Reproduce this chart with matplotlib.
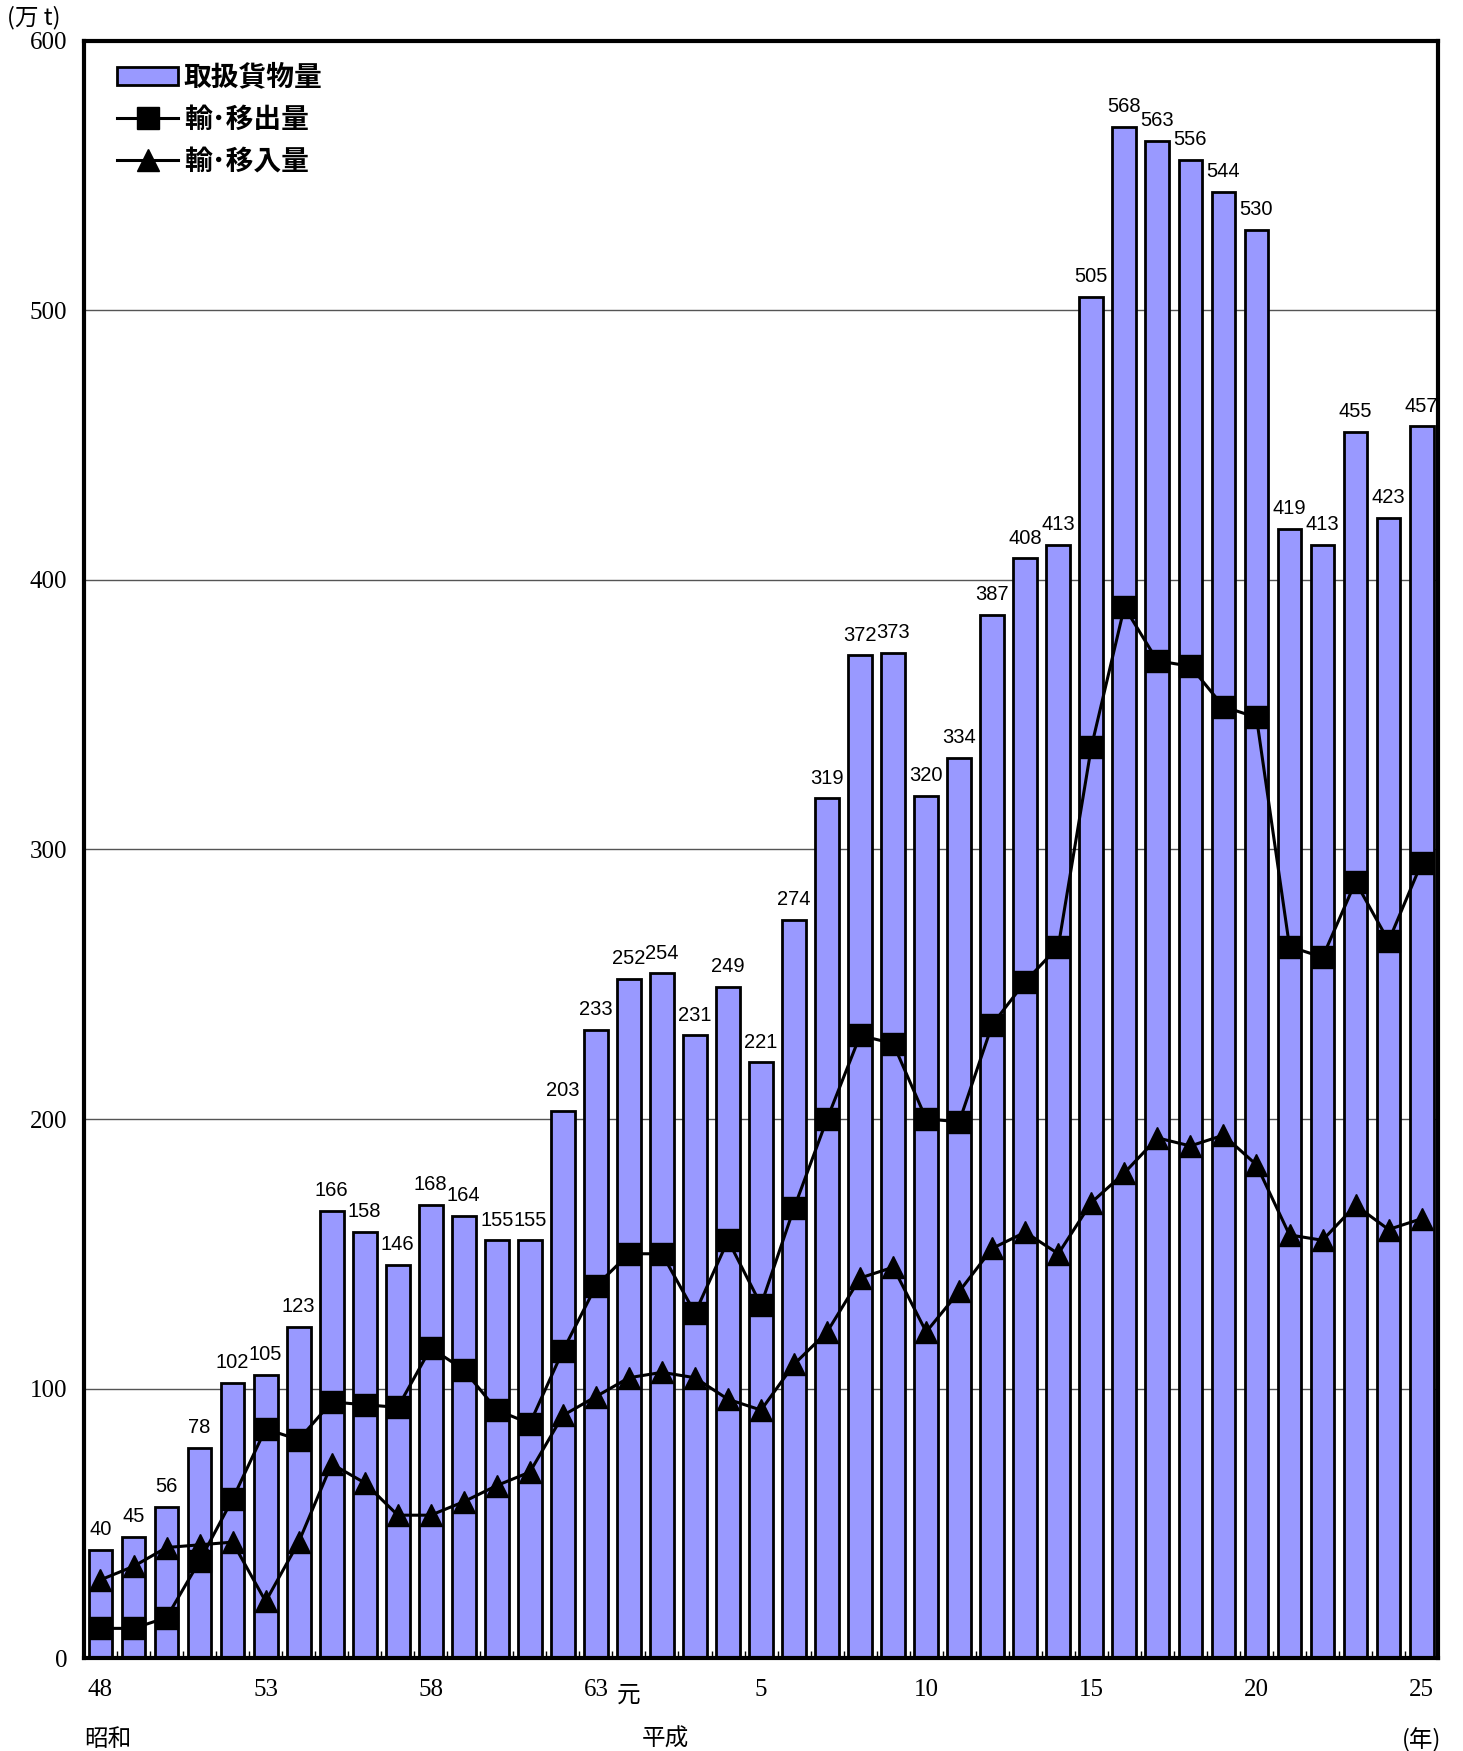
import numpy as np
import matplotlib
matplotlib.use("Agg")
import matplotlib.pyplot as plt
from matplotlib.patches import Patch
from matplotlib.lines import Line2D

plt.rcParams['font.family'] = ['Noto Sans CJK JP', 'DejaVu Sans']

# 昭和48年〜平成25年
year_labels = ['48', '', '', '', '', '53', '', '', '', '', '58', '', '', '', '', '63',
               '元', '', '', '', '5', '', '', '', '', '10', '', '', '', '', '15',
               '', '', '', '', '20', '', '', '', '', '25']

total = [40, 45, 56, 78, 102, 105, 123, 166, 158, 146, 168, 164, 155, 155, 203, 233,
         252, 254, 231, 249, 221, 274, 319, 372, 373, 320, 334, 387, 408, 413, 505,
         568, 563, 556, 544, 530, 419, 413, 455, 423, 457]

exports = [11, 11, 15, 36, 59, 85, 81, 95, 94, 93, 115, 107, 92, 87, 114, 138,
           150, 150, 128, 155, 131, 167, 200, 231, 228, 200, 199, 235, 251, 264, 338,
           390, 370, 368, 353, 349, 264, 260, 288, 266, 295]

imports = [29, 34, 41, 42, 43, 21, 43, 72, 65, 53, 53, 58, 64, 69, 90, 97,
           104, 106, 104, 96, 92, 109, 121, 141, 145, 121, 136, 152, 158, 150, 169,
           180, 193, 190, 194, 183, 157, 155, 168, 159, 163]

x = np.arange(len(total))
bar_color = '#9999ff'
num_font = ['Liberation Serif', 'DejaVu Serif']

fig = plt.figure(figsize=(14.63, 17.51), dpi=100)
ax = fig.add_axes([0.0574, 0.0531, 0.9256, 0.9235])

ax.set_axisbelow(True)
ax.yaxis.grid(True, color='#555555', linewidth=1.0)
ax.bar(x, total, width=0.72, color=bar_color, edgecolor='black', linewidth=2, zorder=2)
ax.plot(x, exports, color='black', linewidth=2.2, marker='s', markersize=16, zorder=3)
ax.plot(x, imports, color='black', linewidth=2.2, marker='^', markersize=16, zorder=3)

for xi, v in zip(x, total):
    ax.text(xi, v + 4, str(v), ha='center', va='bottom', fontsize=14.5,
            family=['Liberation Sans', 'DejaVu Sans'], zorder=4)

ax.set_xlim(-0.5, 40.5)
ax.set_ylim(0, 600)
ax.set_yticks(range(0, 601, 100))
ax.set_yticklabels([str(v) for v in range(0, 601, 100)], family=num_font, fontsize=18)
ax.tick_params(axis='y', length=0, pad=12)

# 下端の小目盛（棒の間）
ax.set_xticks(x[:-1] + 0.5, minor=True)
ax.tick_params(axis='x', which='minor', direction='in', length=5, width=1)
ax.set_xticks([])
for xi, lab in zip(x, year_labels):
    if not lab:
        continue
    if lab == '元':
        ax.text(xi, -0.016, lab, transform=ax.get_xaxis_transform(), ha='center',
                va='top', fontsize=17, family=['Noto Sans CJK JP'])
    else:
        ax.text(xi, -0.013, lab, transform=ax.get_xaxis_transform(), ha='center',
                va='top', fontsize=18, family=num_font)

for sp in ax.spines.values():
    sp.set_linewidth(3)

ax.text(-0.5, -0.043, '昭和', transform=ax.get_xaxis_transform(), ha='left', va='top', fontsize=17)
ax.text(17.1, -0.043, '平成', transform=ax.get_xaxis_transform(), ha='center', va='top', fontsize=17)
ax.text(40.6, -0.043, '(年)', transform=ax.get_xaxis_transform(), ha='right', va='top', fontsize=17)
fig.text(0.005, 0.99, '(万 t)', ha='left', va='center', fontsize=17)

handles = [Patch(facecolor=bar_color, edgecolor='black', linewidth=2),
           Line2D([], [], color='black', linewidth=2.2, marker='s', markersize=16),
           Line2D([], [], color='black', linewidth=2.2, marker='^', markersize=16)]
ax.legend(handles, ['取扱貨物量', '輸･移出量', '輸･移入量'], loc='upper left',
          bbox_to_anchor=(0.01, 0.998), frameon=False,
          prop={'weight': 'bold', 'size': 20}, handlelength=2.2, handleheight=0.6,
          handletextpad=0.2, labelspacing=0.5, borderaxespad=0.3)

fig.savefig('out.png', dpi=100)
